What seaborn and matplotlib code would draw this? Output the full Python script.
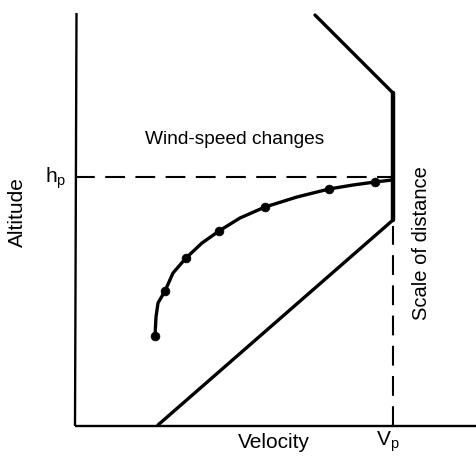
import pandas as pd
import seaborn as sns
import matplotlib.pyplot as plt

# Values (velocity on x, altitude on y, origin at axis corner)
v_p = 318
h_p = 249

# upper boundary: slant then vertical down at Vp
upper_v = [240, 318, 318]
upper_h = [411, 333, 206]

# lower boundary slant
lower_v = [318, 83]
lower_h = [206, 1]

# wind-speed curve
path_v = [80, 81, 83, 90, 98, 111, 127, 144, 165, 190, 222, 254, 278, 300, 317]
path_h = [90, 109, 123, 135, 153, 168, 183, 195, 208, 219, 229, 237, 241, 244, 246]

# measured points (dots) on the curve
dot_v = [80, 90, 111, 144, 190, 254, 300]
dot_h = [90, 135, 168, 195, 219, 237, 244]

sns.set_style("white")
plt.rcParams["font.family"] = ["Liberation Sans", "DejaVu Sans"]
plt.rcParams["text.color"] = "black"

fig = plt.figure(figsize=(4.77, 4.58), dpi=100)
ax = fig.add_axes([0, 0, 1, 1])
ax.set_xlim(-75, 402)
ax.set_ylim(-32, 426)
ax.axis("off")

# axes of the diagram
ax.plot([1.5, 0], [413, 0], color="black", lw=1.7, solid_capstyle="butt")
ax.plot([0, 402], [0, 0], color="black", lw=1.7, solid_capstyle="butt")

# dashed reference lines
ax.plot([0, v_p], [h_p, h_p], color="black", lw=1.5, linestyle=(0, (9.5, 5)))
ax.plot([v_p, v_p], [0, 200], color="black", lw=1.5, linestyle=(0, (9.5, 5)))

# boundaries
sns.lineplot(x=upper_v, y=upper_h, sort=False, estimator=None, color="black",
             lw=2.4, ax=ax)
ax.plot([v_p, v_p], [upper_h[1], upper_h[2]], color="black", lw=3.2)
sns.lineplot(x=lower_v, y=lower_h, sort=False, estimator=None, color="black",
             lw=2.4, ax=ax)

# curve with measured points
path = pd.DataFrame({"v": path_v, "h": path_h})
dots = pd.DataFrame({"v": dot_v, "h": dot_h})
sns.lineplot(data=path, x="v", y="h", sort=False, estimator=None, color="black",
             lw=2.4, ax=ax)
sns.scatterplot(data=dots, x="v", y="h", color="black", s=40,
                edgecolor="black", ax=ax, zorder=5)

# labels
ax.text(160, 286, "Wind-speed changes", fontsize=13.8, ha="center", va="center")
ax.text(199, -16, "Velocity", fontsize=15, ha="center", va="center")
ax.text(313, -16, "V$_\\mathregular{p}$", fontsize=15, ha="center", va="center")
ax.text(-19, 248, "h$_\\mathregular{p}$", fontsize=15, ha="center", va="center")
ax.text(-58, 214, "Altitude", fontsize=15, ha="center", va="center", rotation=90)
ax.text(347, 183, "Scale of distance", fontsize=14.5, ha="center", va="center",
        rotation=90)

ax.set_xlabel("")
ax.set_ylabel("")

plt.savefig("out.png", dpi=100)
